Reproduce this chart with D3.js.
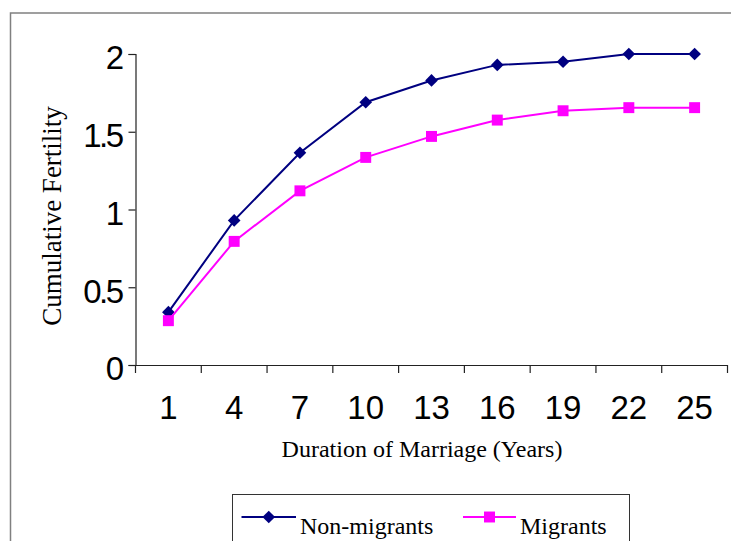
<!DOCTYPE html>
<html>
<head>
<meta charset="utf-8">
<script src="https://cdn.jsdelivr.net/npm/d3@7"></script>
<style>
  html, body { margin: 0; padding: 0; background: #fff; }
  svg { display: block; }
</style>
</head>
<body>
<svg id="chart" width="731" height="541"></svg>
<script>
const categories = ["1", "4", "7", "10", "13", "16", "19", "22", "25"];
const nonMigrants = [0.34, 0.93, 1.365, 1.69, 1.83, 1.93, 1.95, 2.0, 2.0];
const migrants = [0.285, 0.795, 1.12, 1.335, 1.47, 1.575, 1.635, 1.655, 1.655];
const yTicks = [0, 0.5, 1, 1.5, 2];
const yTickLabels = ["0", "0.5", "1", "1.5", "2"];
const seriesNames = ["Non-migrants", "Migrants"];
const seriesColors = ["#000080", "#FF00FF"];

const svg = d3.select("#chart");

// outer frame (only top and left visible)
svg.append("rect")
  .attr("x", 10.5).attr("y", 13)
  .attr("width", 760).attr("height", 560)
  .attr("fill", "none").attr("stroke", "#808080").attr("stroke-width", 1.5);

const x = d3.scaleBand().domain(categories).range([135.5, 727.5]).padding(0);
const y = d3.scaleLinear().domain([0, 2]).range([365, 54]);

// y axis
const yAxis = d3.axisLeft(y)
  .tickValues(yTicks)
  .tickFormat((d, i) => yTickLabels[i])
  .tickSize(7).tickPadding(7);
const gy = svg.append("g").attr("transform", "translate(135.5,0)").call(yAxis);
gy.select(".domain").attr("stroke", "#222").attr("stroke-width", 1.2);
gy.selectAll(".tick line").attr("stroke", "#222").attr("stroke-width", 1.2);
gy.selectAll(".tick text")
  .attr("font-family", "'Liberation Sans', Arial, sans-serif")
  .attr("font-size", 33)
  .attr("letter-spacing", -2.5)
  .attr("fill", "#000")
  .attr("dy", "0.45em");

// x axis
const xAxis = d3.axisBottom(x).tickSize(0).tickPadding(0);
const gx = svg.append("g").attr("transform", "translate(0,365)").call(xAxis);
gx.select(".domain").attr("stroke", "#222").attr("stroke-width", 1.2);
gx.selectAll(".tick text")
  .attr("font-family", "'Liberation Sans', Arial, sans-serif")
  .attr("font-size", 33)
  .attr("fill", "#000")
  .attr("dy", 0)
  .attr("y", 54);
// category boundary tick marks
const boundaries = categories.map(c => x(c)).concat([x.range()[1]]);
gx.selectAll(".bt").data(boundaries).enter().append("line")
  .attr("class", "bt")
  .attr("x1", d => d).attr("x2", d => d)
  .attr("y1", 0).attr("y2", 8)
  .attr("stroke", "#222").attr("stroke-width", 1.2);

// axis titles
svg.append("text")
  .attr("transform", "translate(61,216) rotate(-90)")
  .attr("text-anchor", "middle")
  .attr("font-family", "'Liberation Serif', 'Times New Roman', serif")
  .attr("font-size", 27)
  .attr("fill", "#000")
  .text("Cumulative Fertility");

svg.append("text")
  .attr("x", 422).attr("y", 457)
  .attr("text-anchor", "middle")
  .attr("font-family", "'Liberation Serif', 'Times New Roman', serif")
  .attr("font-size", 24)
  .attr("fill", "#000")
  .text("Duration of Marriage (Years)");

// series
const series = [nonMigrants, migrants];
const line = d3.line().x((d, i) => x(categories[i]) + x.bandwidth() / 2).y(d => y(d));
const symbolSizes = [80, 120];
const rotations = [45, 0];

series.forEach((vals, s) => {
  svg.append("path")
    .datum(vals)
    .attr("d", line)
    .attr("fill", "none")
    .attr("stroke", seriesColors[s])
    .attr("stroke-width", 2);
  svg.selectAll(".m" + s).data(vals).enter().append("path")
    .attr("class", "m" + s)
    .attr("transform", (d, i) => `translate(${x(categories[i]) + x.bandwidth() / 2},${y(d)}) rotate(${rotations[s]})`)
    .attr("d", d3.symbol().type(d3.symbolSquare).size(symbolSizes[s]))
    .attr("fill", seriesColors[s]);
});

// legend
const lg = svg.append("g");
lg.append("rect")
  .attr("x", 232.5).attr("y", 494.5).attr("width", 397).attr("height", 60)
  .attr("fill", "#fff").attr("stroke", "#333").attr("stroke-width", 1);
const legendItems = [
  { x1: 241.5, x2: 296, tx: 300 },
  { x1: 463, x2: 516, tx: 520 }
];
legendItems.forEach((it, s) => {
  const ly = 517;
  lg.append("line")
    .attr("x1", it.x1).attr("x2", it.x2).attr("y1", ly).attr("y2", ly)
    .attr("stroke", seriesColors[s]).attr("stroke-width", 2);
  lg.append("path")
    .attr("transform", `translate(${(it.x1 + it.x2) / 2},${ly}) rotate(${rotations[s]})`)
    .attr("d", d3.symbol().type(d3.symbolSquare).size(symbolSizes[s]))
    .attr("fill", seriesColors[s]);
  lg.append("text")
    .attr("x", it.tx).attr("y", 534)
    .attr("font-family", "'Liberation Serif', 'Times New Roman', serif")
    .attr("font-size", 24)
    .attr("fill", "#000")
    .text(seriesNames[s]);
});
</script>
</body>
</html>
